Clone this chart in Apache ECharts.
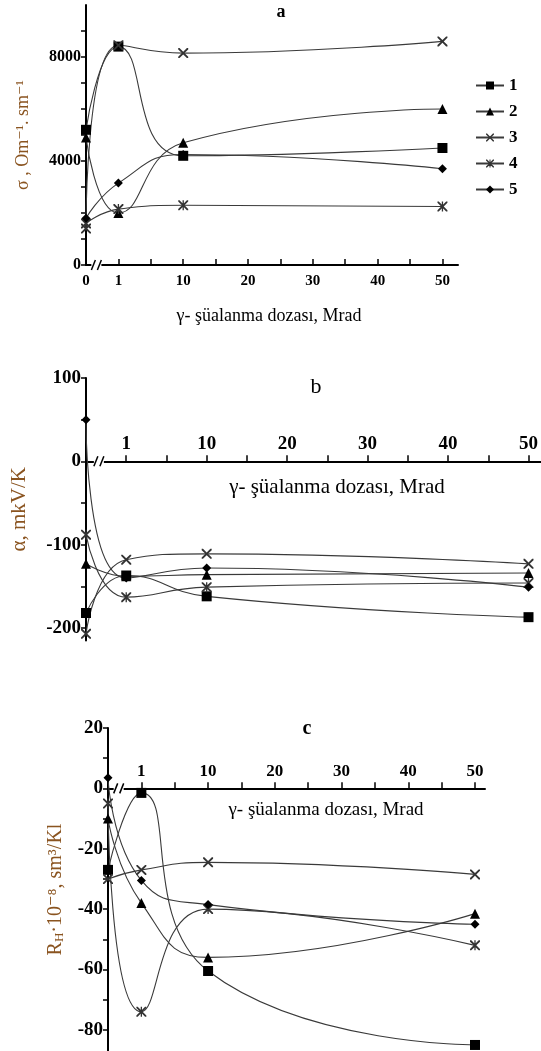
<!DOCTYPE html>
<html><head><meta charset="utf-8">
<script src="https://cdn.jsdelivr.net/npm/echarts@6/dist/echarts.min.js"></script>
<style>html,body{margin:0;padding:0;background:#fff}#c{width:541px;height:1051px}</style>
</head><body><div id="c"></div>
<script>
// ---- data ----
const doses = [0, 1, 10, 50];
const legendNames = ['1', '2', '3', '4', '5'];
// panel a: sigma, Om^-1 sm^-1
const sigma1 = [5200, 8400, 4200, 4500];
const sigma2 = [4900, 2000, 4700, 6000];
const sigma3 = [1400, 8450, 8150, 8600];
const sigma4 = [1600, 2150, 2300, 2250];
const sigma5 = [1800, 3150, 4250, 3700];
// panel b: alpha, mkV/K
const alpha1 = [-182, -137, -162, -187];
const alpha2 = [-123, -138, -136, -134];
const alpha3 = [-207, -118, -111, -123];
const alpha4 = [-88, -163, -151, -146];
const alpha5 = [50, -140, -128, -151];
// panel c: R_H * 1e-8, sm^3/Kl
const rh1 = [-27, -1.5, -60.5, -85];
const rh2 = [-10, -38, -56, -41.5];
const rh3 = [-30, -27, -24.5, -28.5];
const rh4 = [-5, -74, -40, -52];
const rh5 = [3.5, -30.5, -38.5, -45];
// tick labels
const xLabelDoses = [0, 1, 10, 20, 30, 40, 50];
const xTickDoses = [1, 5, 10, 15, 20, 25, 30, 35, 40, 45, 50];
const sigmaLabels = [0, 4000, 8000];
const sigmaTicks = [0, 1000, 2000, 3000, 4000, 5000, 6000, 7000, 8000, 9000];
const alphaLabels = [-200, -100, 0, 100];
const alphaTicks = [-200, -150, -100, -50, 0, 50, 100];
const rhLabels = [-80, -60, -40, -20, 0, 20];
const rhTicks = [-80, -70, -60, -50, -40, -30, -20, -10, 0, 10, 20];

// ---- broken x axis: dose 0 sits on the y axis, dose 1 at the start of the linear part ----
function axisPos(d) { return d === 0 ? -5 : (d === 1 ? 0 : d); }
function tickPos(d) { return d === 1 ? 0 : d; }
function labelFor(v) {
  for (const d of xLabelDoses) if (Math.abs(axisPos(d) - v) < 1e-6) return String(d);
  return '';
}

const SERIF = "'Liberation Serif','DejaVu Serif',serif";
const X_PATH = 'M0,0L1.3,0L5,3.7L8.7,0L10,0L10,1.3L6.3,5L10,8.7L10,10L8.7,10L5,6.3L1.3,10L0,10L0,8.7L3.7,5L0,1.3Z';
const AST_PATH = X_PATH + 'M4.35,0L5.65,0L5.65,10L4.35,10Z';
const symbols = ['rect', 'triangle', 'path://' + X_PATH, 'path://' + AST_PATH, 'diamond'];
const symSizes = [10, 10, 10, 10, 9];

const panels = [
  [sigma1, sigma2, sigma3, sigma4, sigma5],
  [alpha1, alpha2, alpha3, alpha4, alpha5],
  [rh1, rh2, rh3, rh4, rh5]
];

const series = [];
panels.forEach((sets, pi) => {
  sets.forEach((vals, si) => {
    series.push({
      type: 'line', name: legendNames[si], xAxisIndex: pi, yAxisIndex: pi,
      smooth: 0.5,
      data: doses.map((d, i) => [axisPos(d), vals[i]]),
      symbol: symbols[si], symbolSize: symSizes[si], showAllSymbol: true,
      lineStyle: { color: '#3a3a3a', width: 1.1 },
      itemStyle: { color: si >= 2 && si <= 3 ? '#333' : '#000' },
      emphasis: { disabled: true }, animation: false, clip: false
    });
  });
});

const grids = [
  { left: 86, top: 5, width: 372, height: 260 },
  { left: 86, top: 378, width: 455, height: 262.5 },
  { left: 108, top: 728, width: 377, height: 323 }
];
const yRanges = [[0, 10000], [-215, 100], [-87, 20]];
// lift the x axis of panels b and c onto the zero line
function zeroOffset(gi) {
  const r = yRanges[gi];
  return -grids[gi].height * (0 - r[0]) / (r[1] - r[0]);
}

function xAxis(gi, max, inside, fontSize) {
  return {
    type: 'value', gridIndex: gi, min: -5, max: max, position: 'bottom',
    offset: inside ? zeroOffset(gi) : 0,
    axisLine: { onZero: false, lineStyle: { color: '#000', width: 2 } },
    axisTick: { inside: true, length: 6, lineStyle: { color: '#000', width: 1.5 },
      customValues: xTickDoses.map(tickPos) },
    axisLabel: { inside: inside, margin: inside ? 8 : 9, color: '#000', fontFamily: SERIF,
      fontWeight: 'bold', fontSize: fontSize,
      customValues: xLabelDoses.filter(d => !(inside && d === 0)).map(axisPos),
      formatter: v => labelFor(v) },
    splitLine: { show: false }
  };
}
function yAxis(gi, ticks, labels, fontSize, name, gap, nameSize) {
  return {
    type: 'value', gridIndex: gi, min: yRanges[gi][0], max: yRanges[gi][1],
    axisLine: { onZero: false, lineStyle: { color: '#000', width: 2 } },
    axisTick: { length: 5, lineStyle: { color: '#000', width: 1.5 }, customValues: ticks },
    axisLabel: { margin: 5, color: '#000', fontFamily: SERIF, fontWeight: 'bold',
      fontSize: fontSize, customValues: labels, formatter: v => String(v) },
    splitLine: { show: false },
    name: name, nameLocation: 'middle', nameGap: gap,
    nameTextStyle: { fontFamily: SERIF, fontSize: nameSize, color: '#8a5420',
      rich: {
        n: { fontFamily: SERIF, fontSize: nameSize, color: '#8a5420' },
        sub: { fontFamily: SERIF, fontSize: Math.round(nameSize * 0.65), color: '#8a5420', padding: [8, 0, 0, 0] }
      } }
  };
}

const chart = echarts.init(document.getElementById('c'), null, { renderer: 'canvas' });
const option = {
  animation: false,
  backgroundColor: '#fff',
  grid: grids,
  xAxis: [
    xAxis(0, 52.4, false, 15),
    xAxis(1, 51.5, true, 19),
    xAxis(2, 51.5, true, 17)
  ],
  yAxis: [
    yAxis(0, sigmaTicks, sigmaLabels, 16, 'σ , Om⁻¹. sm⁻¹', 54, 18),
    yAxis(1, alphaTicks, alphaLabels, 19, 'α, mkV/K', 56, 21),
    yAxis(2, rhTicks, rhLabels, 19, '{n|R}{sub|H}{n|·10⁻⁸, sm³/Kl}', 42, 20)
  ],
  legend: {
    data: legendNames, orient: 'vertical', left: 470, top: 72,
    itemWidth: 28, itemHeight: 10, itemGap: 9,
    textStyle: { fontFamily: SERIF, fontWeight: 'bold', fontSize: 17, color: '#000' },
    selectedMode: false
  },
  series: series
};
chart.setOption(option);

function textEl(t, x, y, size, weight) {
  return { type: 'text', x: x, y: y, silent: true, z: 10,
    style: { text: t, font: weight + ' ' + size + 'px ' + SERIF, fill: '#000',
      align: 'center', verticalAlign: 'middle', textAlign: 'center', textVerticalAlign: 'middle' } };
}
const graphics = [
  textEl('a', 281, 12, 18, 'bold'),
  textEl('b', 316, 387, 22, 'normal'),
  textEl('c', 307, 729, 20, 'bold'),
  textEl('γ- şüalanma dozası, Mrad', 269, 316, 18, 'normal'),
  textEl('γ- şüalanma dozası, Mrad', 337, 487, 21, 'normal'),
  textEl('γ- şüalanma dozası, Mrad', 326, 810, 19, 'normal')
];
[0, 1, 2].forEach(i => {
  const p = chart.convertToPixel({ xAxisIndex: i, yAxisIndex: i }, [-3.4, 0]);
  graphics.push({ type: 'rect', shape: { x: p[0] - 5, y: p[1] - 2, width: 10, height: 4 },
    style: { fill: '#fff' }, z: 20, silent: true });
  graphics.push({ type: 'line', shape: { x1: p[0] - 5, y1: p[1] + 5, x2: p[0] - 1, y2: p[1] - 5 },
    style: { stroke: '#000', lineWidth: 1.5 }, z: 21, silent: true });
  graphics.push({ type: 'line', shape: { x1: p[0] + 1, y1: p[1] + 5, x2: p[0] + 5, y2: p[1] - 5 },
    style: { stroke: '#000', lineWidth: 1.5 }, z: 21, silent: true });
});
chart.setOption({ graphic: graphics });
</script></body></html>
